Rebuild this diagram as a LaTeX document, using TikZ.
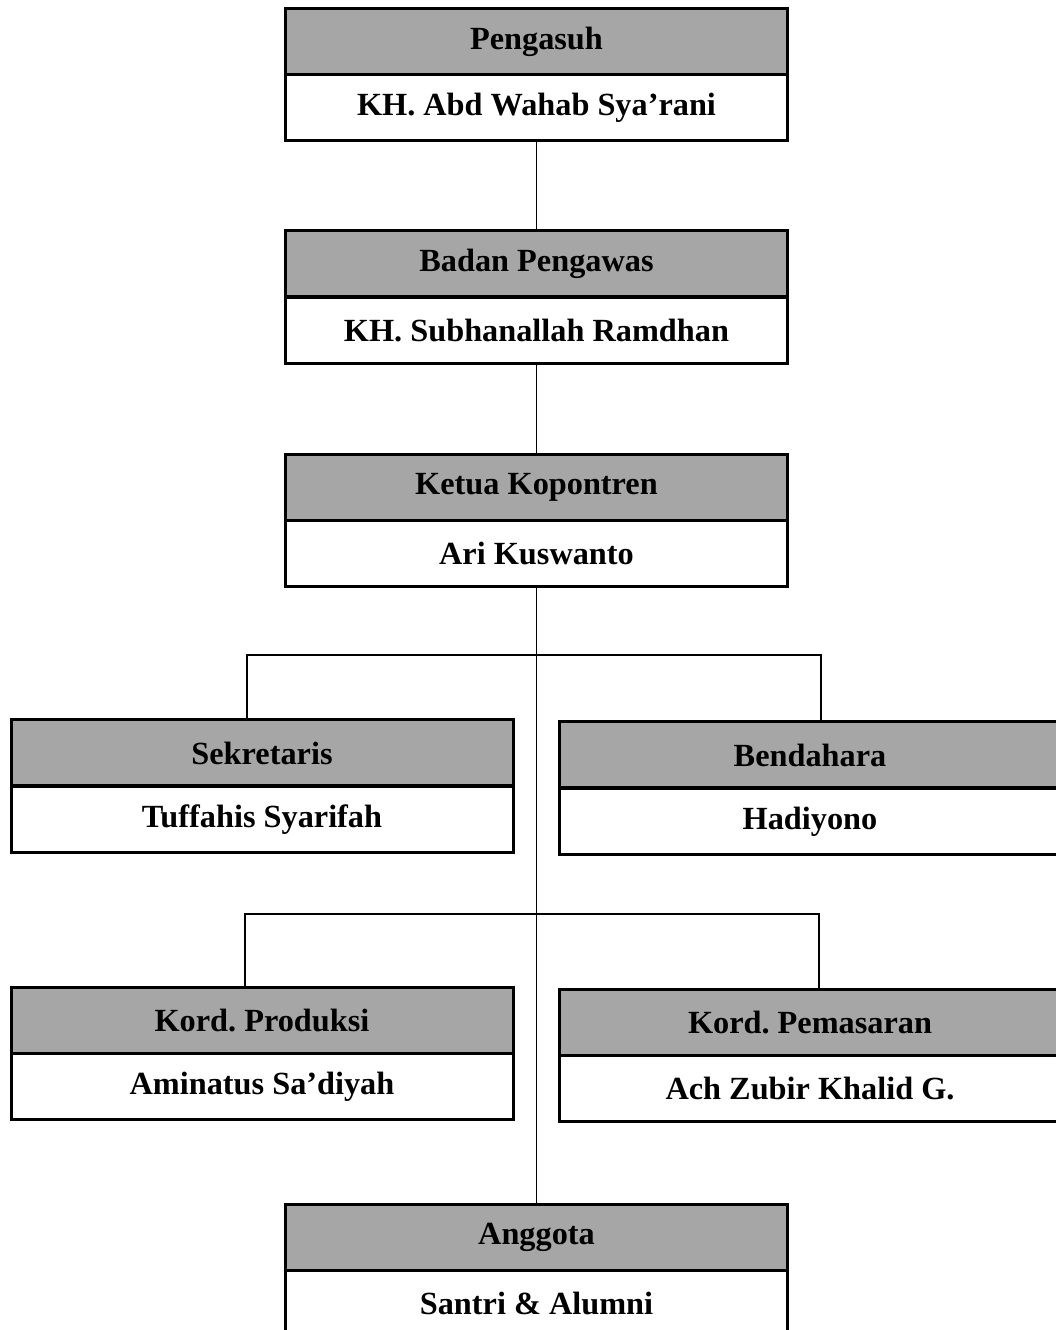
\documentclass[tikz,border=0pt]{standalone}
\usepackage{fontspec}
\setmainfont{Liberation Serif}
\frenchspacing
\begin{document}
\begin{tikzpicture}[x=1pt,y=1pt,
  hdbox/.style={draw=black,line width=3pt,fill=headgray,minimum width=502pt,minimum height=66pt,inner sep=0pt,font=\fontsize{32.3}{38}\selectfont\bfseries},
  nmbox/.style={draw=black,line width=3pt,fill=white,minimum width=502pt,minimum height=66pt,inner sep=0pt,font=\fontsize{32.3}{38}\selectfont\bfseries},
  conn/.style={draw=black,line width=1.5pt}]
\definecolor{headgray}{HTML}{A6A6A6}
\useasboundingbox (0,0) rectangle (1056,1330);
\clip (0,0) rectangle (1056,1330);
\coordinate (cs) at (247,675);
\coordinate (cb) at (821,675);
\coordinate (cp) at (245,416);
\coordinate (cm) at (819,416);
% boxes
\node[hdbox] (p1) at (536.5,1288) {Pengasuh};
\node[nmbox] (p2) at (536.5,1222) {KH. Abd Wahab Sya’rani};
\node[hdbox] (b1) at (536.5,1066) {Badan Pengawas};
\node[nmbox] (b2) at (536.5,999.5) {KH. Subhanallah Ramdhan};
\node[hdbox] (k1) at (536.5,842.5) {Ketua Kopontren};
\node[nmbox] (k2) at (536.5,776.5) {Ari Kuswanto};
\node[hdbox] (s1) at (262,577) {Sekretaris};
\node[nmbox] (s2) at (262,510.5) {Tuffahis Syarifah};
\node[hdbox] (d1) at (810,575) {Bendahara};
\node[nmbox] (d2) at (810,508.5) {Hadiyono};
\node[hdbox] (r1) at (262,309.5) {Kord. Produksi};
\node[nmbox] (r2) at (262,243.5) {Aminatus Sa’diyah};
\node[hdbox] (m1) at (810,307.5) {Kord. Pemasaran};
\node[nmbox] (m2) at (810,241.5) {Ach Zubir Khalid G.};
\node[hdbox] (a1) at (536.5,92.5) {Anggota};
\node[nmbox] (a2) at (536.5,26.5) {Santri \& Alumni};
% connector lines
\draw[conn] (p2.south) -- (b1.north);
\draw[conn] (b2.south) -- (k1.north);
\draw[conn] (k2.south) -- (a1.north);
\draw[conn] (cs |- s1.north) -- (cs) -- (cb) -- (cb |- d1.north);
\draw[conn] (cp |- r1.north) -- (cp) -- (cm) -- (cm |- m1.north);
\end{tikzpicture}
\end{document}
